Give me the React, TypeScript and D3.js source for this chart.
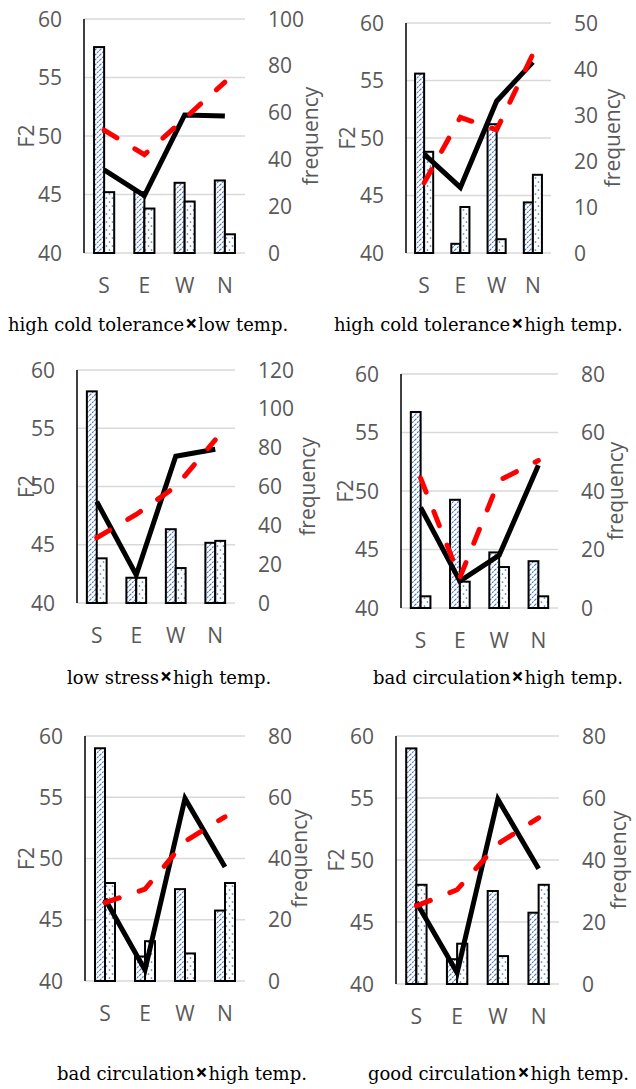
import React from "react";
import * as d3 from "d3";

const categories = ["S", "E", "W", "N"];
const f2Ticks = [40, 45, 50, 55, 60];
const panelTitles = [
  "high cold tolerance×low temp.",
  "high cold tolerance×high temp.",
  "low stress×high temp.",
  "bad circulation×high temp.",
  "bad circulation×high temp.",
  "good circulation×high temp.",
];
const freqMax = [100, 50, 120, 80, 80, 80];
const freqStep = [20, 10, 20, 20, 20, 20];
// bar series (right axis: frequency)
const hatchedFreq = [
  [88, 26, 30, 31],
  [39, 2, 28, 11],
  [109, 13, 38, 31],
  [67, 37, 19, 16],
  [76, 8, 30, 23],
  [76, 8, 30, 23],
];
const dottedFreq = [
  [26, 19, 22, 8],
  [22, 10, 3, 17],
  [23, 13, 18, 32],
  [4, 9, 14, 4],
  [32, 13, 9, 32],
  [32, 13, 9, 32],
];
// line series (left axis: F2)
const solidF2 = [
  [47.1, 44.9, 51.8, 51.7],
  [48.6, 45.7, 53.2, 56.6],
  [48.7, 42.4, 52.6, 53.2],
  [48.6, 42.3, 44.5, 52.2],
  [46.7, 40.9, 54.9, 49.3],
  [46.6, 40.9, 54.9, 49.3],
];
const dashedF2 = [
  [50.5, 48.4, 51.5, 54.6],
  [46.1, 51.8, 50.7, 57.3],
  [45.6, 47.6, 50.0, 54.0],
  [51.1, 42.6, 50.9, 52.6],
  [46.4, 47.5, 51.4, 53.4],
  [46.3, 47.6, 51.3, 53.4],
];

const layout = [
  { left: 84, right: 245, top: 19, bottom: 253, f2x: 26, freqX: 310, titleX: 8, titleY: 331 },
  { left: 406, right: 551, top: 23, bottom: 253, f2x: 347, freqX: 612, titleX: 334, titleY: 331 },
  { left: 77, right: 235, top: 370, bottom: 603, f2x: 26, freqX: 307, titleX: 67, titleY: 684 },
  { left: 401, right: 558, top: 374, bottom: 608, f2x: 345, freqX: 615, titleX: 373, titleY: 684 },
  { left: 85, right: 245, top: 736, bottom: 981, f2x: 26, freqX: 299, titleX: 57, titleY: 1080 },
  { left: 396, right: 559, top: 736, bottom: 984, f2x: 336, freqX: 618, titleX: 368, titleY: 1080 },
];

const AXIS_FONT = "'Open Sans', 'Noto Sans', sans-serif";
const TITLE_FONT = "'DejaVu Serif', 'Liberation Serif', serif";
const GRAY = "#595959";
const BLUE = "#4472C4";

function Panel({ i }: { i: number }) {
  const L = layout[i];
  const x = d3.scaleBand<string>().domain(categories).range([L.left, L.right]);
  const yL = d3.scaleLinear().domain([40, 60]).range([L.bottom, L.top]);
  const yR = d3.scaleLinear().domain([0, freqMax[i]]).range([L.bottom, L.top]);
  const freqTicks = d3.range(0, freqMax[i] + 0.001, freqStep[i]);
  const bw = x.bandwidth() * 0.25;
  const cx = (c: string) => (x(c) as number) + x.bandwidth() / 2;
  const line = d3
    .line<number>()
    .x((_, k) => cx(categories[k]))
    .y((v) => yL(v));
  const titleParts = panelTitles[i].split("×");
  return (
    <g>
      {f2Ticks.map((t) => (
        <line key={"g" + t} x1={L.left} x2={L.right} y1={yL(t)} y2={yL(t)} stroke="#d9d9d9" strokeWidth={1.5} />
      ))}
      {f2Ticks.map((t) => (
        <text key={"l" + t} x={L.left - 22} y={yL(t)} dy="0.36em" textAnchor="end" fontFamily={AXIS_FONT} fontSize={21} fill={GRAY}>
          {t}
        </text>
      ))}
      {freqTicks.map((t) => (
        <text key={"r" + t} x={L.right + 23} y={yR(t)} dy="0.36em" textAnchor="start" fontFamily={AXIS_FONT} fontSize={21} fill={GRAY}>
          {t}
        </text>
      ))}
      {categories.map((c) => (
        <text key={"c" + c} x={cx(c)} y={L.bottom + 32} dy="0.36em" textAnchor="middle" fontFamily={AXIS_FONT} fontSize={21} fill={GRAY}>
          {c}
        </text>
      ))}
      <text
        transform={`translate(${L.f2x},${(L.top + L.bottom) / 2}) rotate(-90)`}
        dy="0.36em"
        textAnchor="middle"
        fontFamily={AXIS_FONT}
        fontSize={21}
        fill={GRAY}
      >
        F2
      </text>
      <text
        transform={`translate(${L.freqX},${(L.top + L.bottom) / 2}) rotate(-90)`}
        dy="0.36em"
        textAnchor="middle"
        fontFamily={AXIS_FONT}
        fontSize={21}
        fill={GRAY}
      >
        frequency
      </text>
      {categories.map((c, k) => (
        <g key={"b" + c}>
          <rect
            x={cx(c) - bw}
            y={yR(hatchedFreq[i][k])}
            width={bw}
            height={L.bottom - yR(hatchedFreq[i][k])}
            fill="url(#hatch)"
            stroke="#000"
            strokeWidth={2}
          />
          <rect
            x={cx(c)}
            y={yR(dottedFreq[i][k])}
            width={bw}
            height={L.bottom - yR(dottedFreq[i][k])}
            fill="url(#dots)"
            stroke="#000"
            strokeWidth={2}
          />
        </g>
      ))}
      <line x1={L.left} x2={L.left} y1={L.top} y2={L.bottom} stroke="#000" strokeWidth={1.5} />
      <path d={line(solidF2[i]) || ""} fill="none" stroke="#000" strokeWidth={5} strokeLinejoin="miter" />
      <path
        d={line(dashedF2[i]) || ""}
        fill="none"
        stroke="#FF0000"
        strokeWidth={5}
        strokeDasharray="15 21"
        strokeLinecap="round"
      />
      <text x={L.titleX} y={L.titleY} fontFamily={TITLE_FONT} fontSize={18} fill="#000">
        {titleParts[0]}
        <tspan fontFamily={AXIS_FONT} fontWeight={700} fontSize={21} dx={1}>×</tspan>
        <tspan dx={1}>{titleParts[1]}</tspan>
      </text>
    </g>
  );
}

export default function App() {
  return (
    <svg
      width={636}
      height={1089}
      viewBox="0 0 636 1089"
      style={{ position: "absolute", left: 0, top: 0, background: "#fff" }}
    >
      <defs>
        <pattern id="hatch" patternUnits="userSpaceOnUse" width={5} height={5}>
          <rect width={5} height={5} fill="#fff" />
          <path d="M-1,1 L1,-1 M0,5 L5,0 M4,6 L6,4" stroke={BLUE} strokeWidth={1.1} strokeDasharray="2 1" />
        </pattern>
        <pattern id="dots" patternUnits="userSpaceOnUse" width={6} height={8}>
          <rect width={6} height={8} fill="#fff" />
          <circle cx={1.5} cy={2} r={0.85} fill={BLUE} />
          <circle cx={4.5} cy={6} r={0.85} fill={BLUE} />
        </pattern>
      </defs>
      <rect width={636} height={1089} fill="#fff" />
      {layout.map((_, i) => (
        <Panel key={i} i={i} />
      ))}
    </svg>
  );
}
